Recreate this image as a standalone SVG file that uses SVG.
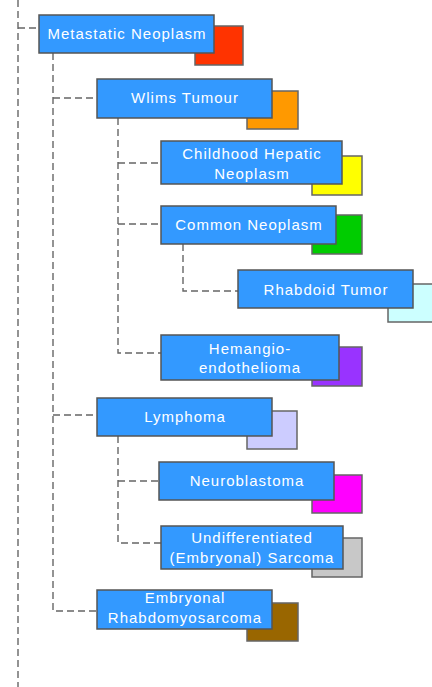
<svg xmlns="http://www.w3.org/2000/svg" width="432" height="687" viewBox="0 0 432 687">
  <style>
    .shadow { stroke: #666; stroke-width: 1.5; }
    .box { fill: #3399FF; stroke: #555; stroke-width: 1.5; }
    .lbl { font-family: "Liberation Sans", Arial, sans-serif; font-size: 15px; letter-spacing: 1px; fill: #fff; text-anchor: middle; }
    .link { fill: none; stroke: #666; stroke-width: 1.4; stroke-dasharray: 7 4; }
  </style>
  <rect width="432" height="687" fill="#fff"/>

  <g id="connectors">
    <path class="link" d="M18 0 V687"/>
    <path class="link" d="M18 28 H39"/>
    <path class="link" d="M53 53 V611 H97"/>
    <path class="link" d="M53 98 H97"/>
    <path class="link" d="M53 415 H97"/>
    <path class="link" d="M118 118 V353 H161"/>
    <path class="link" d="M118 163 H161"/>
    <path class="link" d="M118 224 H161"/>
    <path class="link" d="M183 244 V291 H238"/>
    <path class="link" d="M118 436 V543 H161"/>
    <path class="link" d="M118 481 H159"/>
  </g>

  <g id="metastatic-neoplasm">
    <rect class="shadow" x="195" y="26" width="48" height="39" fill="#FF3300"/>
    <rect class="box" x="39" y="15" width="175" height="38"/>
    <text class="lbl" x="127" y="39">Metastatic Neoplasm</text>
  </g>

  <g id="wilms-tumour">
    <rect class="shadow" x="247" y="91" width="51" height="38" fill="#FF9900"/>
    <rect class="box" x="97" y="79" width="175" height="39"/>
    <text class="lbl" x="185" y="103">Wlims Tumour</text>
  </g>

  <g id="childhood-hepatic-neoplasm">
    <rect class="shadow" x="312" y="156" width="50" height="39" fill="#FFFF00"/>
    <rect class="box" x="161" y="141" width="181" height="43"/>
    <text class="lbl" x="252" y="159">Childhood Hepatic</text>
    <text class="lbl" x="252" y="179">Neoplasm</text>
  </g>

  <g id="common-neoplasm">
    <rect class="shadow" x="312" y="215" width="50" height="39" fill="#00CC00"/>
    <rect class="box" x="161" y="206" width="175" height="38"/>
    <text class="lbl" x="249" y="230">Common Neoplasm</text>
  </g>

  <g id="rhabdoid-tumor">
    <rect class="shadow" x="388" y="284" width="50" height="38" fill="#CCFFFF"/>
    <rect class="box" x="238" y="270" width="175" height="38"/>
    <text class="lbl" x="326" y="295">Rhabdoid Tumor</text>
  </g>

  <g id="hemangioendothelioma">
    <rect class="shadow" x="312" y="347" width="50" height="39" fill="#9933FF"/>
    <rect class="box" x="161" y="335" width="178" height="45"/>
    <text class="lbl" x="250" y="354">Hemangio-</text>
    <text class="lbl" x="250" y="373">endothelioma</text>
  </g>

  <g id="lymphoma">
    <rect class="shadow" x="247" y="411" width="50" height="38" fill="#CCCCFF"/>
    <rect class="box" x="97" y="398" width="175" height="38"/>
    <text class="lbl" x="185" y="422">Lymphoma</text>
  </g>

  <g id="neuroblastoma">
    <rect class="shadow" x="312" y="475" width="50" height="38" fill="#FF00FF"/>
    <rect class="box" x="159" y="462" width="175" height="38"/>
    <text class="lbl" x="247" y="486">Neuroblastoma</text>
  </g>

  <g id="undifferentiated-sarcoma">
    <rect class="shadow" x="312" y="538" width="50" height="39" fill="#C8C8C8"/>
    <rect class="box" x="161" y="526" width="182" height="43"/>
    <text class="lbl" x="252" y="543">Undifferentiated</text>
    <text class="lbl" x="252" y="563">(Embryonal) Sarcoma</text>
  </g>

  <g id="embryonal-rhabdomyosarcoma">
    <rect class="shadow" x="247" y="603" width="51" height="38" fill="#996600"/>
    <rect class="box" x="97" y="590" width="175" height="39"/>
    <text class="lbl" x="185" y="603">Embryonal</text>
    <text class="lbl" x="185" y="623">Rhabdomyosarcoma</text>
  </g>
</svg>
